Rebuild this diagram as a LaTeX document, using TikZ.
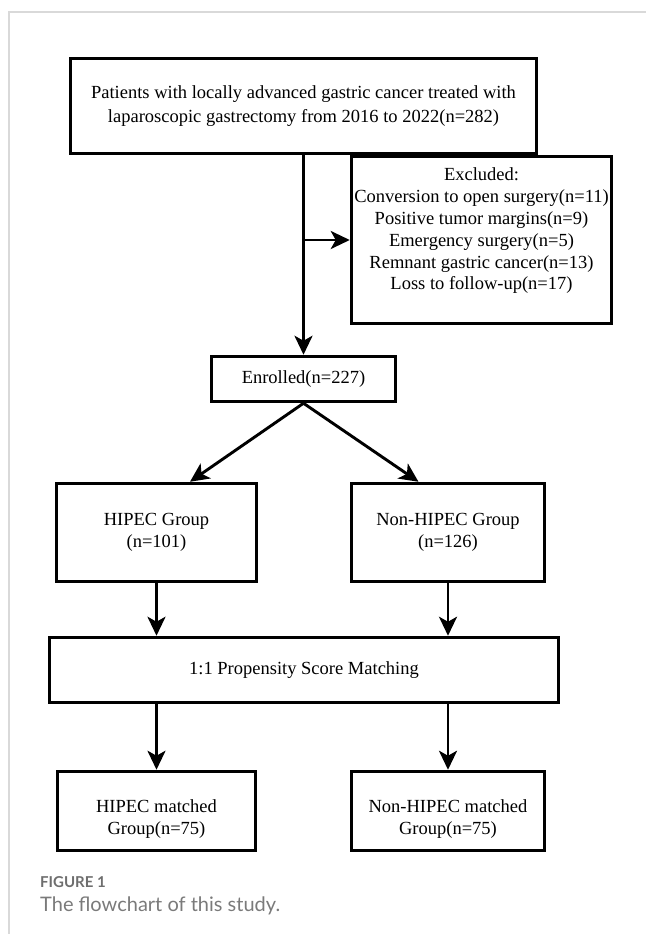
\documentclass[tikz,border=0pt]{standalone}
\usepackage{fontspec}
\setmainfont{Liberation Serif}
\newfontfamily\capfont{Lato}
\usetikzlibrary{arrows.meta,calc}
\definecolor{framegray}{HTML}{D9D9D9}
\definecolor{capgray}{HTML}{6E6E6E}
\definecolor{txtgray}{HTML}{7A7A7A}
\begin{document}
\begin{tikzpicture}[x=1pt,y=-1pt,
  box/.style={draw=black,line width=3.5pt,inner sep=0pt,align=center,
    font=\fontsize{18.5}{22}\selectfont},
  lbl/.style={inner sep=0pt,align=center,font=\fontsize{18.5}{22}\selectfont},
  conn/.style={line width=2.9pt,-{Stealth[length=19pt,width=18pt,inset=5pt]}}]
\useasboundingbox (0,0) rectangle (646,934);
% page frame
\draw[framegray,line width=1.5pt] (9,934) -- (9,12) -- (646,12);
% nodes
\node[box,minimum width=466,minimum height=95,
  font=\fontsize{18.5}{24.5}\selectfont] (top) at (303.5,106)
  {Patients with locally advanced gastric cancer treated with\\laparoscopic gastrectomy from 2016 to 2022(n=282)};
\node[box,minimum width=260,minimum height=167] (excl) at (481.5,240) {};
\node[lbl,font=\fontsize{18.5}{21.8}\selectfont] (excltext) at (481.5,231)
  {Excluded:\\Conversion to open surgery(n=11)\\Positive tumor margins(n=9)\\Emergency surgery(n=5)\\Remnant gastric cancer(n=13)\\Loss to follow-up(n=17)};
\node[box,minimum width=184,minimum height=45] (enr) at (303.5,379) {Enrolled(n=227)};
\node[box,minimum width=200,minimum height=98] (hip) at (156.5,532.5) {HIPEC Group\\(n=101)};
\node[box,minimum width=193,minimum height=98] (non) at (448,532.5) {Non-HIPEC Group\\(n=126)};
\node[box,minimum width=509,minimum height=65] (psm) at (304,670) {1:1 Propensity Score Matching};
\node[box,minimum width=198,minimum height=79] (hipm) at (156.5,811) {};
\node[lbl] (hipmtext) at (156.5,819) {HIPEC matched\\Group(n=75)};
\node[box,minimum width=193,minimum height=79] (nonm) at (448,811) {};
\node[lbl] (nonmtext) at (448,819) {Non-HIPEC matched\\Group(n=75)};
% caption
\node[anchor=base west,inner sep=0pt,text=capgray,font=\capfont\bfseries\fontsize{15}{18}\selectfont] (figno) at (40,887) {FIGURE 1};
\node[anchor=base west,inner sep=0pt,text=txtgray,font=\capfont\fontsize{20}{24}\selectfont] (captext) at (40,911) {The flowchart of this study.};
% connectors
\draw[conn] (top.south) -- (enr.north);
\draw[conn] (excl.west -| top.south) -- (excl.west);
\draw[conn] (enr.south) -- ([xshift=33.5pt]hip.north);
\draw[conn] (enr.south) -- ([xshift=-29.5pt]non.north);
\draw[conn] (hip.south) -- (hip.south |- psm.north);
\draw[conn] (non.south) -- (non.south |- psm.north);
\draw[conn] (hip.south |- psm.south) -- (hipm.north);
\draw[conn] (non.south |- psm.south) -- (nonm.north);
\end{tikzpicture}
\end{document}
